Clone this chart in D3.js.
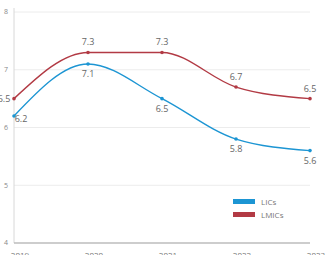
<!DOCTYPE html>
<html>
<head>
<meta charset="utf-8">
<script src="https://cdn.jsdelivr.net/npm/d3@7/dist/d3.min.js"></script>
<style>
body { margin: 0; background: #fff; }
svg { display: block; font-family: "Open Sans", sans-serif; }
</style>
</head>
<body>
<div id="chart"></div>
<script>
var years = ["2019", "2020", "2021", "2022", "2023"];
var lics = [6.2, 7.1, 6.5, 5.8, 5.6];
var lmics = [6.5, 7.3, 7.3, 6.7, 6.5];
var yTicks = [4, 5, 6, 7, 8];

var W = 328, H = 255;
var margin = { top: 12, right: 18, bottom: 12, left: 14 };

var svg = d3.select("#chart").append("svg").attr("width", W).attr("height", H);

var x = d3.scalePoint().domain(years).range([margin.left, W - margin.right]);
var y = d3.scaleLinear().domain([4, 8]).range([H - margin.bottom, margin.top]);

// gridlines
svg.append("g").selectAll("line").data(yTicks.slice(1)).enter().append("line")
    .attr("x1", margin.left).attr("x2", W - margin.right)
    .attr("y1", function (d) { return y(d); }).attr("y2", function (d) { return y(d); })
    .style("stroke", "#ececec").style("stroke-width", 1);

// y axis line
svg.append("line")
    .attr("x1", margin.left).attr("x2", margin.left)
    .attr("y1", y(8) - 4).attr("y2", y(4))
    .style("stroke", "#d8d8d8");

// y tick labels
svg.append("g").selectAll("text").data(yTicks).enter().append("text")
    .attr("x", 6).attr("y", function (d) { return y(d); })
    .attr("dy", "0.35em").attr("text-anchor", "middle")
    .style("font-size", "7px").style("fill", "#888")
    .text(function (d) { return d; });

// x axis
svg.append("line")
    .attr("x1", margin.left).attr("x2", W - margin.right)
    .attr("y1", y(4)).attr("y2", y(4))
    .style("stroke", "#bdbdbd").style("stroke-width", 1.5);

svg.append("g").selectAll("text").data(years).enter().append("text")
    .attr("x", function (d) { return x(d) + 6; }).attr("y", y(4) + 15)
    .attr("text-anchor", "middle")
    .style("font-size", "8px").style("fill", "#777")
    .text(function (d) { return d; });

var line = d3.line()
    .x(function (d, i) { return x(years[i]); })
    .y(function (d) { return y(d); })
    .curve(d3.curveMonotoneX);

var series = [
    { name: "LICs", values: lics, color: "#1c95d3", dy: 13 },
    { name: "LMICs", values: lmics, color: "#b23a44", dy: -7 }
];

series.forEach(function (s) {
    svg.append("path")
        .attr("d", line(s.values))
        .style("fill", "none")
        .style("stroke", s.color)
        .style("stroke-width", 1.4);

    svg.append("g").selectAll("circle").data(s.values).enter().append("circle")
        .attr("cx", function (d, i) { return x(years[i]); })
        .attr("cy", function (d) { return y(d); })
        .attr("r", 1.8)
        .style("fill", s.color);

    svg.append("g").selectAll("text").data(s.values).enter().append("text")
        .attr("x", function (d, i) { return i === 0 ? x(years[i]) + (s.name === "LICs" ? 7 : -10) : x(years[i]); })
        .attr("y", function (d, i) { return y(d) + (i === 0 ? (s.name === "LICs" ? 6 : 3) : s.dy); })
        .attr("text-anchor", "middle")
        .style("font-size", "9px").style("fill", "#666")
        .text(function (d) { return d.toFixed(1); });
});

// legend
var legend = svg.append("g").attr("transform", "translate(233,199)");
series.forEach(function (s, i) {
    legend.append("rect")
        .attr("x", 0).attr("y", i * 13)
        .attr("width", 22).attr("height", 5)
        .style("fill", s.color);
    legend.append("text")
        .attr("x", 28).attr("y", i * 13 + 3)
        .attr("dy", "0.35em")
        .style("font-size", "8px").style("fill", "#777")
        .text(s.name);
});
</script>
</body>
</html>
